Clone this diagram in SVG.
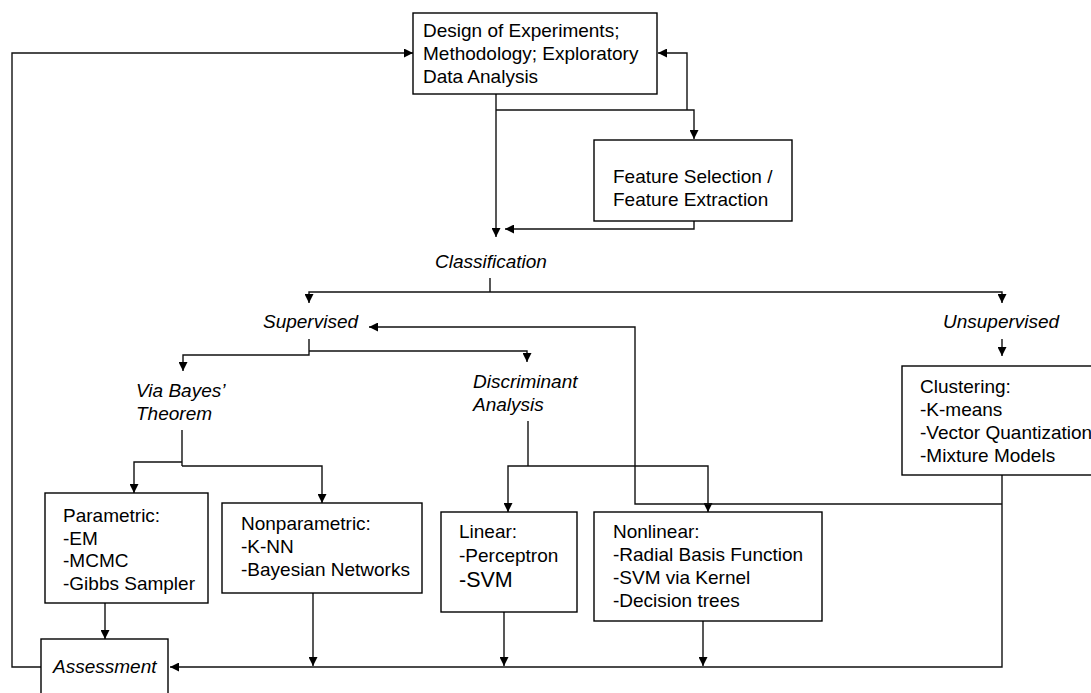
<svg xmlns="http://www.w3.org/2000/svg" width="1091" height="693" viewBox="0 0 1091 693">
<defs>
<style>
.box{fill:#fff;stroke:#000;stroke-width:1.4}
.t{font-family:"Liberation Sans",Arial,sans-serif;font-size:19px;fill:#000}
.i{font-style:italic}
.c{fill:none;stroke:#111;stroke-width:1.4}
</style>
<marker id="ah" viewBox="0 0 10 10" refX="10" refY="5" markerWidth="9" markerHeight="9" markerUnits="userSpaceOnUse" orient="auto">
<path d="M0,0 L10,5 L0,10 z" fill="#000"/>
</marker>
</defs>
<rect width="1091" height="693" fill="#fff"/>
<g id="connectors">
<path class="c" d="M496,94 V237" marker-end="url(#ah)"/>
<path class="c" d="M496,110 H694 V139" marker-end="url(#ah)"/>
<path class="c" d="M687,110 V53 H658" marker-end="url(#ah)"/>
<path class="c" d="M694,221 V229 H505" marker-end="url(#ah)"/>
<path class="c" d="M41,667 H12 V53 H413" marker-end="url(#ah)"/>
<path class="c" d="M490,278 V292"/>
<path class="c" d="M490,292 H309 V303" marker-end="url(#ah)"/>
<path class="c" d="M490,292 H1002 V303" marker-end="url(#ah)"/>
<path class="c" d="M1002,339 V356" marker-end="url(#ah)"/>
<path class="c" d="M309,339 V355 H183 V371" marker-end="url(#ah)"/>
<path class="c" d="M309,351 H527 V362" marker-end="url(#ah)"/>
<path class="c" d="M182,430 V466"/>
<path class="c" d="M182,462 H134 V493" marker-end="url(#ah)"/>
<path class="c" d="M182,466 H322 V503" marker-end="url(#ah)"/>
<path class="c" d="M528,421 V466"/>
<path class="c" d="M528,466 H508 V512" marker-end="url(#ah)"/>
<path class="c" d="M528,466 H708 V512" marker-end="url(#ah)"/>
<path class="c" d="M1002,475 V667 H170" marker-end="url(#ah)"/>
<path class="c" d="M1002,504 H635 V327 H369" marker-end="url(#ah)"/>
<path class="c" d="M105,603 V639" marker-end="url(#ah)"/>
<path class="c" d="M313,593 V666" marker-end="url(#ah)"/>
<path class="c" d="M504,612 V666" marker-end="url(#ah)"/>
<path class="c" d="M703,621 V666" marker-end="url(#ah)"/>
</g>
<g id="design">
<rect class="box" x="413" y="13" width="244" height="81"/>
<text class="t" x="423" y="37">Design of Experiments;</text>
<text class="t" x="423" y="60">Methodology; Exploratory</text>
<text class="t" x="423" y="83">Data Analysis</text>
</g>
<g id="feature">
<rect class="box" x="594" y="140" width="198" height="81"/>
<text class="t" x="613" y="183">Feature Selection /</text>
<text class="t" x="613" y="206">Feature Extraction</text>
</g>
<g id="classification">
<text class="t i" x="435" y="268">Classification</text>
</g>
<g id="supervised">
<text class="t i" x="263" y="328">Supervised</text>
</g>
<g id="unsupervised">
<text class="t i" x="943" y="328">Unsupervised</text>
</g>
<g id="bayes">
<text class="t i" x="136" y="397">Via Bayes’</text>
<text class="t i" x="136" y="420">Theorem</text>
</g>
<g id="discriminant">
<text class="t i" x="473" y="388">Discriminant</text>
<text class="t i" x="473" y="411">Analysis</text>
</g>
<g id="clustering">
<rect class="box" x="902" y="366" width="200" height="109"/>
<text class="t" x="920" y="393">Clustering:</text>
<text class="t" x="920" y="416">-K-means</text>
<text class="t" x="920" y="439">-Vector Quantization</text>
<text class="t" x="920" y="462">-Mixture Models</text>
</g>
<g id="parametric">
<rect class="box" x="45" y="493" width="163" height="110"/>
<text class="t" x="63" y="522">Parametric:</text>
<text class="t" x="63" y="545">-EM</text>
<text class="t" x="63" y="567">-MCMC</text>
<text class="t" x="63" y="590">-Gibbs Sampler</text>
</g>
<g id="nonparametric">
<rect class="box" x="222" y="503" width="200" height="90"/>
<text class="t" x="241" y="530">Nonparametric:</text>
<text class="t" x="241" y="553">-K-NN</text>
<text class="t" x="241" y="576">-Bayesian Networks</text>
</g>
<g id="linear">
<rect class="box" x="441" y="512" width="136" height="100"/>
<text class="t" x="459" y="538">Linear:</text>
<text class="t" x="459" y="562">-Perceptron</text>
<text class="t" x="459" y="587" style="font-size:21.5px">-SVM</text>
</g>
<g id="nonlinear">
<rect class="box" x="594" y="512" width="228" height="109"/>
<text class="t" x="613" y="538">Nonlinear:</text>
<text class="t" x="613" y="561">-Radial Basis Function</text>
<text class="t" x="613" y="584">-SVM via Kernel</text>
<text class="t" x="613" y="607">-Decision trees</text>
</g>
<g id="assessment">
<rect class="box" x="41" y="639" width="127" height="70"/>
<text class="t i" x="53" y="673">Assessment</text>
</g>
</svg>
